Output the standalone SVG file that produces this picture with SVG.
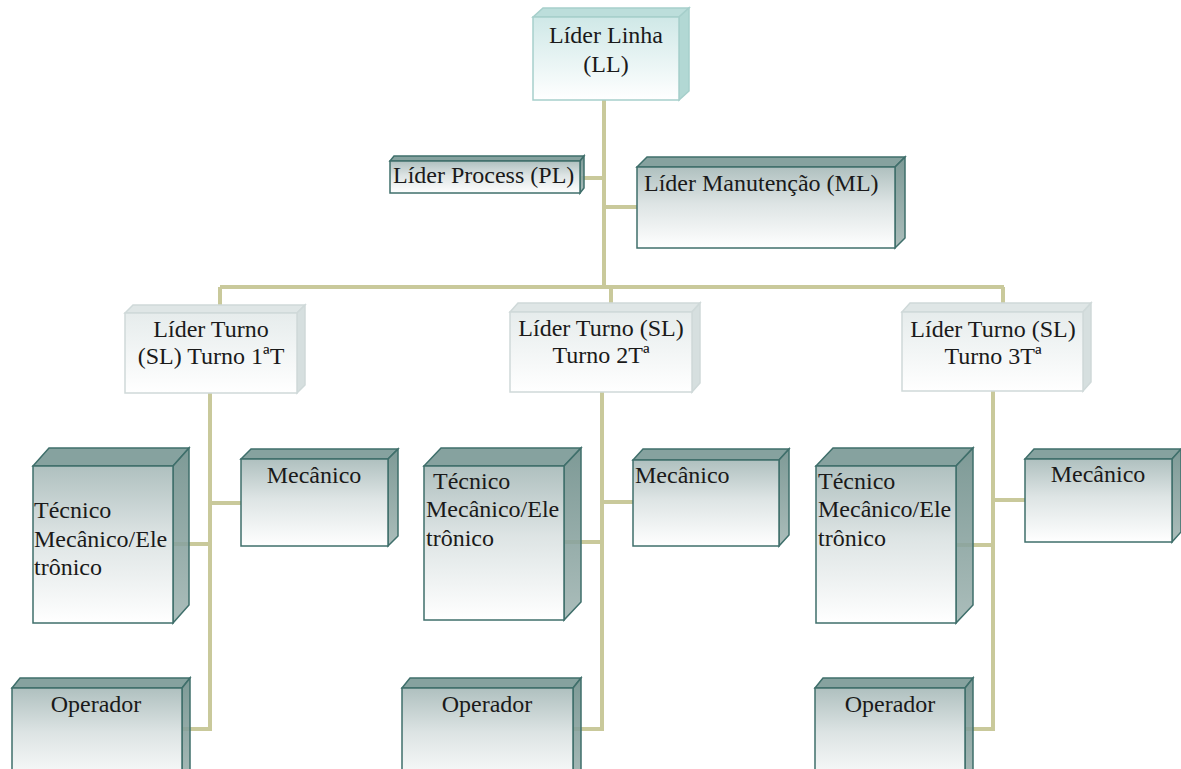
<svg xmlns="http://www.w3.org/2000/svg" width="1181" height="769" viewBox="0 0 1181 769">
<defs>
<linearGradient id="gDark" x1="0" y1="0" x2="0" y2="1">
<stop offset="0" stop-color="#afc0bf"/>
<stop offset="0.45" stop-color="#dde4e4"/>
<stop offset="1" stop-color="#ffffff"/>
</linearGradient>
<linearGradient id="gSide" x1="0" y1="0" x2="0" y2="1">
<stop offset="0" stop-color="#6c8c88"/>
<stop offset="1" stop-color="#9fb4b1"/>
</linearGradient>
<linearGradient id="gLight" x1="0" y1="0" x2="0" y2="1">
<stop offset="0" stop-color="#cfe8e7"/>
<stop offset="1" stop-color="#ffffff"/>
</linearGradient>
<linearGradient id="gGray" x1="0" y1="0" x2="0" y2="1">
<stop offset="0" stop-color="#e6ecec"/>
<stop offset="1" stop-color="#ffffff"/>
</linearGradient>
<style>
.con{fill:none;stroke:#c9c99b;stroke-width:4}
.dark .front{fill:url(#gDark);stroke:#3f6f6b;stroke-width:1.5}
.dark .top{fill:#86a29f;stroke:#3f6f6b;stroke-width:1.5}
.dark .side{fill:url(#gSide);fill-opacity:0.88;stroke:#3f6f6b;stroke-width:1.5}
.light .front{fill:url(#gLight);stroke:#a6cfcb;stroke-width:1.5}
.light .top{fill:#bcdedb;stroke:#a6cfcb;stroke-width:1.5}
.light .side{fill:#b2d8d4;stroke:#a6cfcb;stroke-width:1.5}
.gray .front{fill:url(#gGray);stroke:#cfd9d9;stroke-width:1.5}
.gray .top{fill:#dfe6e6;stroke:#cfd9d9;stroke-width:1.5}
.gray .side{fill:#d6dfdf;stroke:#cfd9d9;stroke-width:1.5}
text{font-family:Liberation Serif,Tinos,"Noto Serif","DejaVu Serif",Times,serif;font-size:24px;fill:#1a1a1a}
.c{text-anchor:middle}
</style>
</defs>
<rect width="1181" height="769" fill="#ffffff"/>
<g id="connectors">
<path class="con" d="M604 100 V287"/>
<path class="con" d="M220 287 H1004"/>
<path class="con" d="M220 287 V313"/>
<path class="con" d="M611 287 V312"/>
<path class="con" d="M1003 287 V312"/>
<path class="con" d="M580 178 H604"/>
<path class="con" d="M604 207 H637"/>
<path class="con" d="M210 393 V729 H182"/>
<path class="con" d="M210 503 H241"/>
<path class="con" d="M210 544 H173"/>
<path class="con" d="M602 392 V729 H573"/>
<path class="con" d="M602 502 H633"/>
<path class="con" d="M602 542 H564"/>
<path class="con" d="M993 391 V729 H965"/>
<path class="con" d="M993 500 H1025"/>
<path class="con" d="M993 545 H956"/>
</g>
<g id="ll" class="light">
<polygon class="top" points="533,17 543,8 689,8 679,17"/>
<polygon class="side" points="679,17 689,8 689,91 679,100"/>
<rect class="front" x="533" y="17" width="146" height="83"/>
<text class="c" x="606" y="43">Líder Linha</text>
<text class="c" x="606" y="72">(LL)</text>
</g>
<g id="pl" class="dark">
<polygon class="top" points="390,161 394,156 584,156 580,161"/>
<polygon class="side" points="580,161 584,156 584,188 580,193"/>
<rect class="front" x="390" y="161" width="190" height="32"/>
<text x="393" y="183">Líder Process (PL)</text>
</g>
<g id="ml" class="dark">
<polygon class="top" points="637,167 647,157 905,157 895,167"/>
<polygon class="side" points="895,167 905,157 905,238 895,248"/>
<rect class="front" x="637" y="167" width="258" height="81"/>
<text x="644" y="191">Líder Manutenção (ML)</text>
</g>
<g id="sl1" class="gray">
<polygon class="top" points="125,313 133,305 305,305 297,313"/>
<polygon class="side" points="297,313 305,305 305,385 297,393"/>
<rect class="front" x="125" y="313" width="172" height="80"/>
<text class="c" x="211" y="337">Líder Turno</text>
<text class="c" x="211" y="364">(SL) Turno 1ªT</text>
</g>
<g id="sl2" class="gray">
<polygon class="top" points="510,312 518,303 700,303 692,312"/>
<polygon class="side" points="692,312 700,303 700,383 692,392"/>
<rect class="front" x="510" y="312" width="182" height="80"/>
<text class="c" x="601" y="336">Líder Turno (SL)</text>
<text class="c" x="601" y="363">Turno 2Tª</text>
</g>
<g id="sl3" class="gray">
<polygon class="top" points="902,312 910,303 1091,303 1083,312"/>
<polygon class="side" points="1083,312 1091,303 1091,382 1083,391"/>
<rect class="front" x="902" y="312" width="181" height="79"/>
<text class="c" x="993" y="337">Líder Turno (SL)</text>
<text class="c" x="993" y="364">Turno 3Tª</text>
</g>
<g id="tec1" class="dark">
<polygon class="top" points="33,466 49,448 189,448 173,466"/>
<polygon class="side" points="173,466 189,448 189,605 173,623"/>
<rect class="front" x="33" y="466" width="140" height="157"/>
<text x="34" y="518">Técnico</text>
<text x="34" y="547">Mecânico/Ele</text>
<text x="34" y="575">trônico</text>
</g>
<g id="mec1" class="dark">
<polygon class="top" points="241,459 251,449 398,449 388,459"/>
<polygon class="side" points="388,459 398,449 398,536 388,546"/>
<rect class="front" x="241" y="459" width="147" height="87"/>
<text class="c" x="314" y="483">Mecânico</text>
</g>
<g id="op1" class="dark">
<polygon class="top" points="12,688 20,678 190,678 182,688"/>
<polygon class="side" points="182,688 190,678 190,780 182,790"/>
<rect class="front" x="12" y="688" width="170" height="100"/>
<text class="c" x="96" y="712">Operador</text>
</g>
<g id="tec2" class="dark">
<polygon class="top" points="424,466 441,448 581,448 564,466"/>
<polygon class="side" points="564,466 581,448 581,602 564,620"/>
<rect class="front" x="424" y="466" width="140" height="154"/>
<text x="433" y="489">Técnico</text>
<text x="426" y="517">Mecânico/Ele</text>
<text x="426" y="546">trônico</text>
</g>
<g id="mec2" class="dark">
<polygon class="top" points="633,460 643,449 789,449 779,460"/>
<polygon class="side" points="779,460 789,449 789,535 779,546"/>
<rect class="front" x="633" y="460" width="146" height="86"/>
<text x="635" y="483">Mecânico</text>
</g>
<g id="op2" class="dark">
<polygon class="top" points="402,688 410,678 581,678 573,688"/>
<polygon class="side" points="573,688 581,678 581,780 573,790"/>
<rect class="front" x="402" y="688" width="171" height="100"/>
<text class="c" x="487" y="712">Operador</text>
</g>
<g id="tec3" class="dark">
<polygon class="top" points="816,466 833,448 973,448 956,466"/>
<polygon class="side" points="956,466 973,448 973,605 956,623"/>
<rect class="front" x="816" y="466" width="140" height="157"/>
<text x="818" y="489">Técnico</text>
<text x="818" y="517">Mecânico/Ele</text>
<text x="818" y="546">trônico</text>
</g>
<g id="mec3" class="dark">
<polygon class="top" points="1025,459 1034,449 1181,449 1172,459"/>
<polygon class="side" points="1172,459 1181,449 1181,532 1172,542"/>
<rect class="front" x="1025" y="459" width="147" height="83"/>
<text class="c" x="1098" y="482">Mecânico</text>
</g>
<g id="op3" class="dark">
<polygon class="top" points="815,688 823,678 973,678 965,688"/>
<polygon class="side" points="965,688 973,678 973,780 965,790"/>
<rect class="front" x="815" y="688" width="150" height="100"/>
<text class="c" x="890" y="712">Operador</text>
</g>
</svg>
